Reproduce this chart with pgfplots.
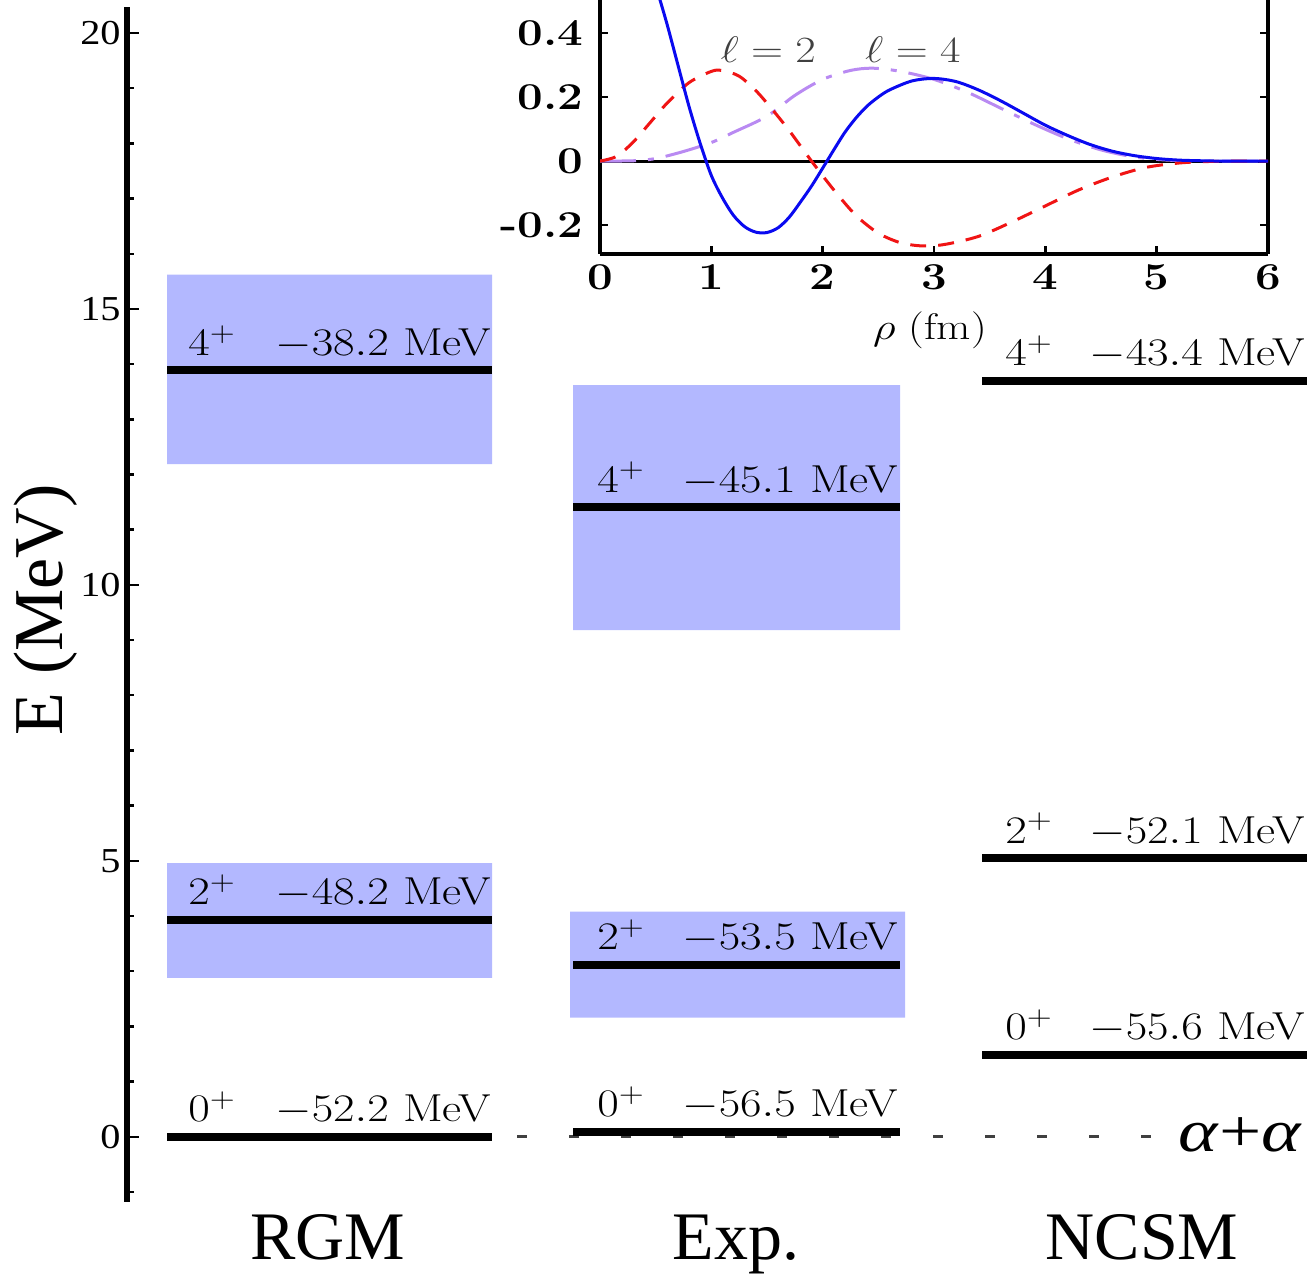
\RequirePackage{fix-cm}
\documentclass[border=0pt]{standalone}
\usepackage{fontspec}
\usepackage{pgfplots}
\pgfplotsset{compat=1.18}
\newfontfamily\tms{Liberation Serif}
\definecolor{lvlbox}{HTML}{B3B8FF}
\definecolor{lzero}{HTML}{0A0AF0}
\definecolor{ltwo}{HTML}{F01414}
\definecolor{lfour}{HTML}{B98AF2}
\newcommand\sx[2][1.25]{\scalebox{#1}[1]{#2}}
\newcommand\lab[1]{\fontsize{19.5}{21}\selectfont\sx[1.2]{#1}}
\newcommand\ilab[1]{\fontsize{18.5}{20}\selectfont\sx[1.2]{#1}}
\newcommand\bx[1]{\sx[1.2]{#1}}

\begin{document}
\begin{tikzpicture}
\path[use as bounding box] (-63.5pt,-37.5pt) rectangle (591pt,601pt);

% level scheme
\begin{axis}[
  at={(0pt,0pt)}, anchor=south west, scale only axis,
  width=591pt, height=597.5pt,
  xmin=127, xmax=1309, ymin=-1.18, ymax=20.47,
  axis x line=none, axis y line*=left,
  axis line style={-, line width=3pt},
  xtick=\empty,
  ytick={0,5,10,15,20},
  yticklabels={\sx[1.15]{0},\sx[1.15]{5},\sx[1.15]{10},\sx[1.15]{15},\sx[1.15]{20}},
  minor ytick={-1,1,2,3,4,6,7,8,9,11,12,13,14,16,17,18,19},
  tick align=inside, major tick length=6pt, minor tick length=3.5pt,
  tick style={black, line width=1.2pt},
  yticklabel style={font=\tms\fontsize{17.5}{18}\selectfont, inner sep=0pt, xshift=-3pt},
  clip=false,
]
% uncertainty boxes
\addplot[fill=lvlbox, draw=none] coordinates {(167,12.19)(492,12.19)(492,15.62)(167,15.62)(167,12.19)};
\addplot[fill=lvlbox, draw=none] coordinates {(167,2.88)(492,2.88)(492,4.96)(167,4.96)(167,2.88)};
\addplot[fill=lvlbox, draw=none] coordinates {(573,9.18)(900,9.18)(900,13.62)(573,13.62)(573,9.18)};
\addplot[fill=lvlbox, draw=none] coordinates {(570,2.16)(905,2.16)(905,4.08)(570,4.08)(570,2.16)};
% threshold
\addplot[black!75, line width=1.5pt, dash pattern=on 5pt off 21pt] coordinates {(517,0)(1151,0)};
% levels
\addplot[black, line width=4pt] coordinates {(167,0)(492,0)};
\addplot[black, line width=4pt] coordinates {(167,3.93)(492,3.93)};
\addplot[black, line width=4pt] coordinates {(167,13.89)(492,13.89)};
\addplot[black, line width=4pt] coordinates {(573,0.09)(900,0.09)};
\addplot[black, line width=4pt] coordinates {(573,3.12)(900,3.12)};
\addplot[black, line width=4pt] coordinates {(573,11.41)(900,11.41)};
\addplot[black, line width=4pt] coordinates {(982,1.49)(1307,1.49)};
\addplot[black, line width=4pt] coordinates {(982,5.05)(1307,5.05)};
\addplot[black, line width=4pt] coordinates {(982,13.70)(1307,13.70)};

\node[anchor=base west, inner sep=0pt, yshift=7.5pt] at (axis cs:188,0) {\lab{$0^{+}$}};
\node[anchor=base east, inner sep=0pt, yshift=7.5pt] at (axis cs:491,0) {\lab{$-52.2$ MeV}};
\node[anchor=base west, inner sep=0pt, yshift=7.5pt] at (axis cs:188,3.93) {\lab{$2^{+}$}};
\node[anchor=base east, inner sep=0pt, yshift=7.5pt] at (axis cs:491,3.93) {\lab{$-48.2$ MeV}};
\node[anchor=base west, inner sep=0pt, yshift=7.5pt] at (axis cs:188,13.89) {\lab{$4^{+}$}};
\node[anchor=base east, inner sep=0pt, yshift=7.5pt] at (axis cs:491,13.89) {\lab{$-38.2$ MeV}};
\node[anchor=base west, inner sep=0pt, yshift=7.5pt] at (axis cs:597,0.09) {\lab{$0^{+}$}};
\node[anchor=base east, inner sep=0pt, yshift=7.5pt] at (axis cs:898,0.09) {\lab{$-56.5$ MeV}};
\node[anchor=base west, inner sep=0pt, yshift=7.5pt] at (axis cs:597,3.12) {\lab{$2^{+}$}};
\node[anchor=base east, inner sep=0pt, yshift=7.5pt] at (axis cs:898,3.12) {\lab{$-53.5$ MeV}};
\node[anchor=base west, inner sep=0pt, yshift=7.5pt] at (axis cs:597,11.41) {\lab{$4^{+}$}};
\node[anchor=base east, inner sep=0pt, yshift=7.5pt] at (axis cs:898,11.41) {\lab{$-45.1$ MeV}};
\node[anchor=base west, inner sep=0pt, yshift=7.5pt] at (axis cs:1005,1.49) {\lab{$0^{+}$}};
\node[anchor=base east, inner sep=0pt, yshift=7.5pt] at (axis cs:1305,1.49) {\lab{$-55.6$ MeV}};
\node[anchor=base west, inner sep=0pt, yshift=7.5pt] at (axis cs:1005,5.05) {\lab{$2^{+}$}};
\node[anchor=base east, inner sep=0pt, yshift=7.5pt] at (axis cs:1305,5.05) {\lab{$-52.1$ MeV}};
\node[anchor=base west, inner sep=0pt, yshift=7.5pt] at (axis cs:1005,13.70) {\lab{$4^{+}$}};
\node[anchor=base east, inner sep=0pt, yshift=7.5pt] at (axis cs:1305,13.70) {\lab{$-43.4$ MeV}};

\node[anchor=base west, inner sep=0pt] at (axis cs:1178,-0.27) {\tms\fontsize{30}{32}\selectfont\sx{\textit{α}+\textit{α}}};
\node[rotate=90, inner sep=0pt] at (axis cs:46,9.55) {\tms\fontsize{35}{38}\selectfont E (MeV)};
\node[anchor=base, inner sep=0pt] at (axis cs:328,-2.228) {\tms\fontsize{34}{36}\selectfont RGM};
\node[anchor=base, inner sep=0pt] at (axis cs:736,-2.228) {\tms\fontsize{34}{36}\selectfont Exp.};
\node[anchor=base, inner sep=0pt] at (axis cs:1142,-2.228) {\tms\fontsize{34}{36}\selectfont NCSM};
\end{axis}

% inset: relative-motion wave functions
\begin{axis}[
  at={(236.5pt,474pt)}, anchor=south west, scale only axis,
  width=334pt, height=127pt,
  xmin=0, xmax=6, ymin=-0.29, ymax=0.503,
  axis x line*=bottom, axis y line*=box,
  axis line style={-, line width=2pt},
  tick align=inside, major tick length=4pt,
  tick style={black, line width=1.2pt},
  xtick={0,1,2,3,4,5,6},
  xticklabels={\bx{0},\bx{1},\bx{2},\bx{3},\bx{4},\bx{5},\bx{6}},
  ytick={-0.2,0,0.2,0.4},
  yticklabels={\bx{-0.2},\bx{0},\bx{0.2},\bx{0.4}},
  yticklabel pos=left,
  ticklabel style={font=\bfseries\fontsize{19}{20}\selectfont, inner sep=0pt},
  xticklabel style={yshift=-5pt}, yticklabel style={xshift=-8pt},
  xlabel={\ilab{$\rho$ (fm)}},
  xlabel style={at={(axis description cs:0.494,0)}, anchor=base, inner sep=0pt, yshift=-43pt},
]
\addplot[black, line width=1.5pt] coordinates {(0,0)(6,0)};
\addplot[lfour, line width=1.5pt, smooth, dash pattern=on 18pt off 6pt on 3pt off 6pt] coordinates {
(0,0)(0.3,0.001)(0.5,0.008)(0.75,0.03)(1.0,0.058)(1.2,0.09)(1.5,0.14)(1.75,0.205)(2.0,0.255)(2.25,0.283)(2.45,0.29)(2.7,0.28)(3.0,0.255)(3.3,0.215)(3.6,0.165)(3.9,0.115)(4.2,0.07)(4.5,0.035)(4.8,0.013)(5.1,0.003)(5.5,0)(6,0)};
\addplot[ltwo, line width=1.5pt, smooth, dash pattern=on 8pt off 6pt] coordinates {
(0,0)(0.15,0.015)(0.3,0.06)(0.45,0.12)(0.6,0.18)(0.8,0.245)(1.0,0.28)(1.1,0.283)(1.25,0.265)(1.4,0.22)(1.55,0.16)(1.7,0.095)(1.9,0)(2.1,-0.09)(2.3,-0.17)(2.5,-0.225)(2.7,-0.255)(2.9,-0.265)(3.1,-0.26)(3.4,-0.235)(3.7,-0.19)(4.0,-0.14)(4.3,-0.09)(4.6,-0.05)(4.9,-0.02)(5.2,-0.006)(5.5,-0.001)(6,0)};
\addplot[lzero, line width=1.5pt, smooth] coordinates {
(0.40,0.68)(0.50,0.55)(0.60,0.43)(0.70,0.30)(0.80,0.17)(0.90,0.055)(1.00,-0.045)(1.10,-0.115)(1.20,-0.17)(1.30,-0.205)(1.40,-0.222)(1.50,-0.223)(1.60,-0.208)(1.70,-0.175)(1.80,-0.128)(1.90,-0.078)(2.00,-0.022)(2.10,0.035)(2.20,0.09)(2.30,0.135)(2.40,0.172)(2.50,0.20)(2.60,0.222)(2.80,0.250)(3.00,0.258)(3.20,0.248)(3.40,0.222)(3.60,0.188)(3.80,0.150)(4.00,0.112)(4.20,0.080)(4.40,0.052)(4.60,0.031)(4.80,0.017)(5.00,0.008)(5.20,0.003)(5.40,0.001)(5.60,0)(6,0)};
\node[text=black!75] at (axis cs:1.51,0.347) {\ilab{$\ell=2$}};
\node[text=black!75] at (axis cs:2.81,0.347) {\ilab{$\ell=4$}};
\end{axis}
\end{tikzpicture}
\end{document}
